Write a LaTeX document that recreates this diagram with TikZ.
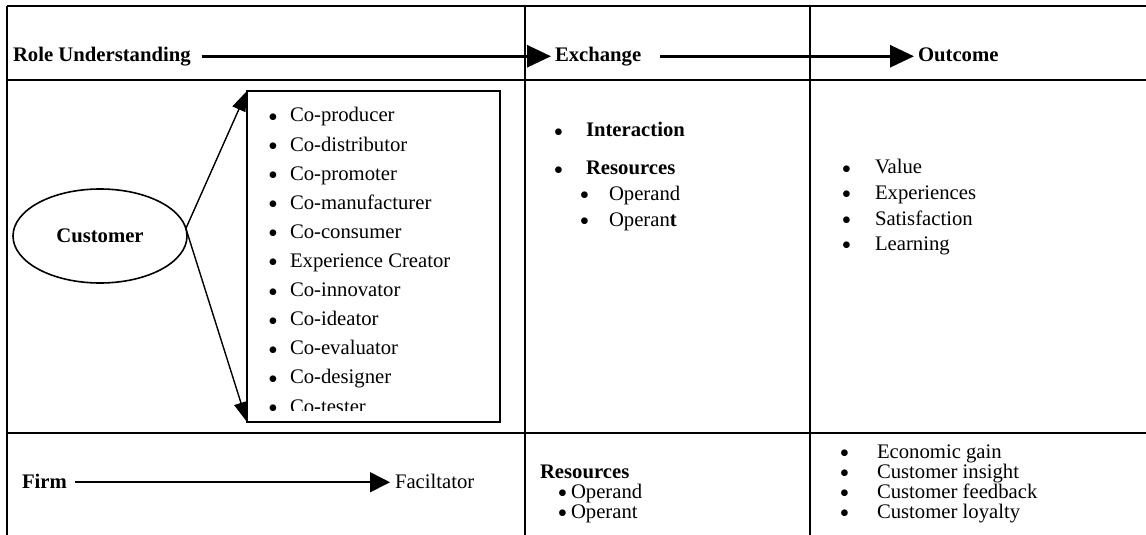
\documentclass[tikz,border=0pt]{standalone}
\usepackage{fontspec}
\setmainfont{Liberation Serif}
\usetikzlibrary{arrows.meta,shapes.geometric}
\newcommand{\bul}{\raisebox{-2.2pt}{\fontsize{14}{14}\selectfont\textbullet}}

\begin{document}
\begin{tikzpicture}[
        x=0.5pt, y=-0.5pt,
        every node/.style = {font=\fontsize{10.35}{12}\selectfont, inner sep=0pt, outer sep=0pt},
        grid/.style = {draw, line width=1pt},
        head/.style = {font=\fontsize{10.35}{12}\selectfont\bfseries, anchor=base west, text height=1.5ex, text depth=.25ex},
        item/.style = {anchor=base west, text height=.72em, text depth=.15em},
        hdrarr/.style = {draw, line width=1.4pt, -{Triangle[length=12pt, width=11pt]}},
        arr/.style = {draw, line width=0.7pt, -{Triangle[length=10pt, width=7pt]}},
        firmarr/.style = {draw, line width=0.8pt, -{Triangle[length=10pt, width=10pt]}},
        cust/.style = {draw, ellipse, line width=0.8pt, minimum width=87pt, minimum height=47pt, font=\fontsize{10.35}{12}\selectfont\bfseries},
        rolebox/.style = {draw, line width=0.8pt, minimum width=126.5pt, minimum height=165.5pt},
    ]
    \useasboundingbox (0,0) rectangle (1146,535);

    % table
    \path[grid] (7,6) -- (1146,6);
    \path[grid] (7,80) -- (1146,80);
    \path[grid] (7,433) -- (1146,433);
    \path[grid] (7,6) -- (7,535);
    \path[grid] (525,6) -- (525,535);
    \path[grid] (810,6) -- (810,535);

    % header
    \node (hrole) [head] at (13,62) {Role Understanding};
    \node (hexch) [head] at (555,62) {Exchange};
    \node (houtc) [head] at (918,62) {Outcome};
    \path[hdrarr] ([xshift=5.5pt]hrole.east) -- ([xshift=-2pt]hexch.west);
    \path[hdrarr] ([xshift=9.5pt]hexch.east) -- ([xshift=-2pt]houtc.west);

    % customer row
    \node (cust) [cust] at (100,236) {Customer};
    \node (roles) [rolebox] at (373.5,256.5) {};
    \begin{scope}
        \clip (247,91) rectangle (500,410);
        \foreach \r [count=\i from 0] in {Co-producer, Co-distributor, Co-promoter, Co-manufacturer,
                Co-consumer, Experience Creator, Co-innovator, Co-ideator, Co-evaluator, Co-designer, Co-tester}
            \node (role\i) [item] at (268,{122+29.1*\i}) {\makebox[11pt][l]{\bul}\r};
    \end{scope}
    \path[arr] (cust.5) -- (roles.north west);
    \path[arr] (cust.5) -- (roles.south west);

    \node (inter) [item] at (553.5,137) {\makebox[16.25pt][l]{\bul}\textbf{Interaction}};
    \node (res) [item] at (553.5,175) {\makebox[16.25pt][l]{\bul}\textbf{Resources}};
    \node (opd) [item] at (579.5,200) {\makebox[14.75pt][l]{\bul}Operand};
    \node (opt) [item] at (579.5,226) {\makebox[14.75pt][l]{\bul}Operan\textbf{t}};

    \node (val) [item] at (841.5,174) {\makebox[16.75pt][l]{\bul}Value};
    \node (exp) [item] at (841.5,199) {\makebox[16.75pt][l]{\bul}Experiences};
    \node (sat) [item] at (841.5,225) {\makebox[16.75pt][l]{\bul}Satisfaction};
    \node (lea) [item] at (841.5,250) {\makebox[16.75pt][l]{\bul}Learning};

    % firm row
    \node (firm) [head] at (22,488) {Firm};
    \node (fac) [head, font=\fontsize{10.35}{12}\selectfont] at (395,488) {Faciltator};
    \path[firmarr] ([xshift=4pt]firm.east) -- ([xshift=-2.5pt]fac.west);

    \node (fres) [item] at (540,478) {\textbf{Resources}};
    \node (fopd) [item] at (557.5,498) {\makebox[6.75pt][l]{\bul}Operand};
    \node (fopt) [item] at (557.5,518) {\makebox[6.75pt][l]{\bul}Operant};

    \node (gain) [item] at (839.5,458) {\makebox[18.75pt][l]{\bul}Economic gain};
    \node (ins) [item] at (839.5,478) {\makebox[18.75pt][l]{\bul}Customer insight};
    \node (feed) [item] at (839.5,498) {\makebox[18.75pt][l]{\bul}Customer feedback};
    \node (loy) [item] at (839.5,518) {\makebox[18.75pt][l]{\bul}Customer loyalty};
\end{tikzpicture}
\end{document}
